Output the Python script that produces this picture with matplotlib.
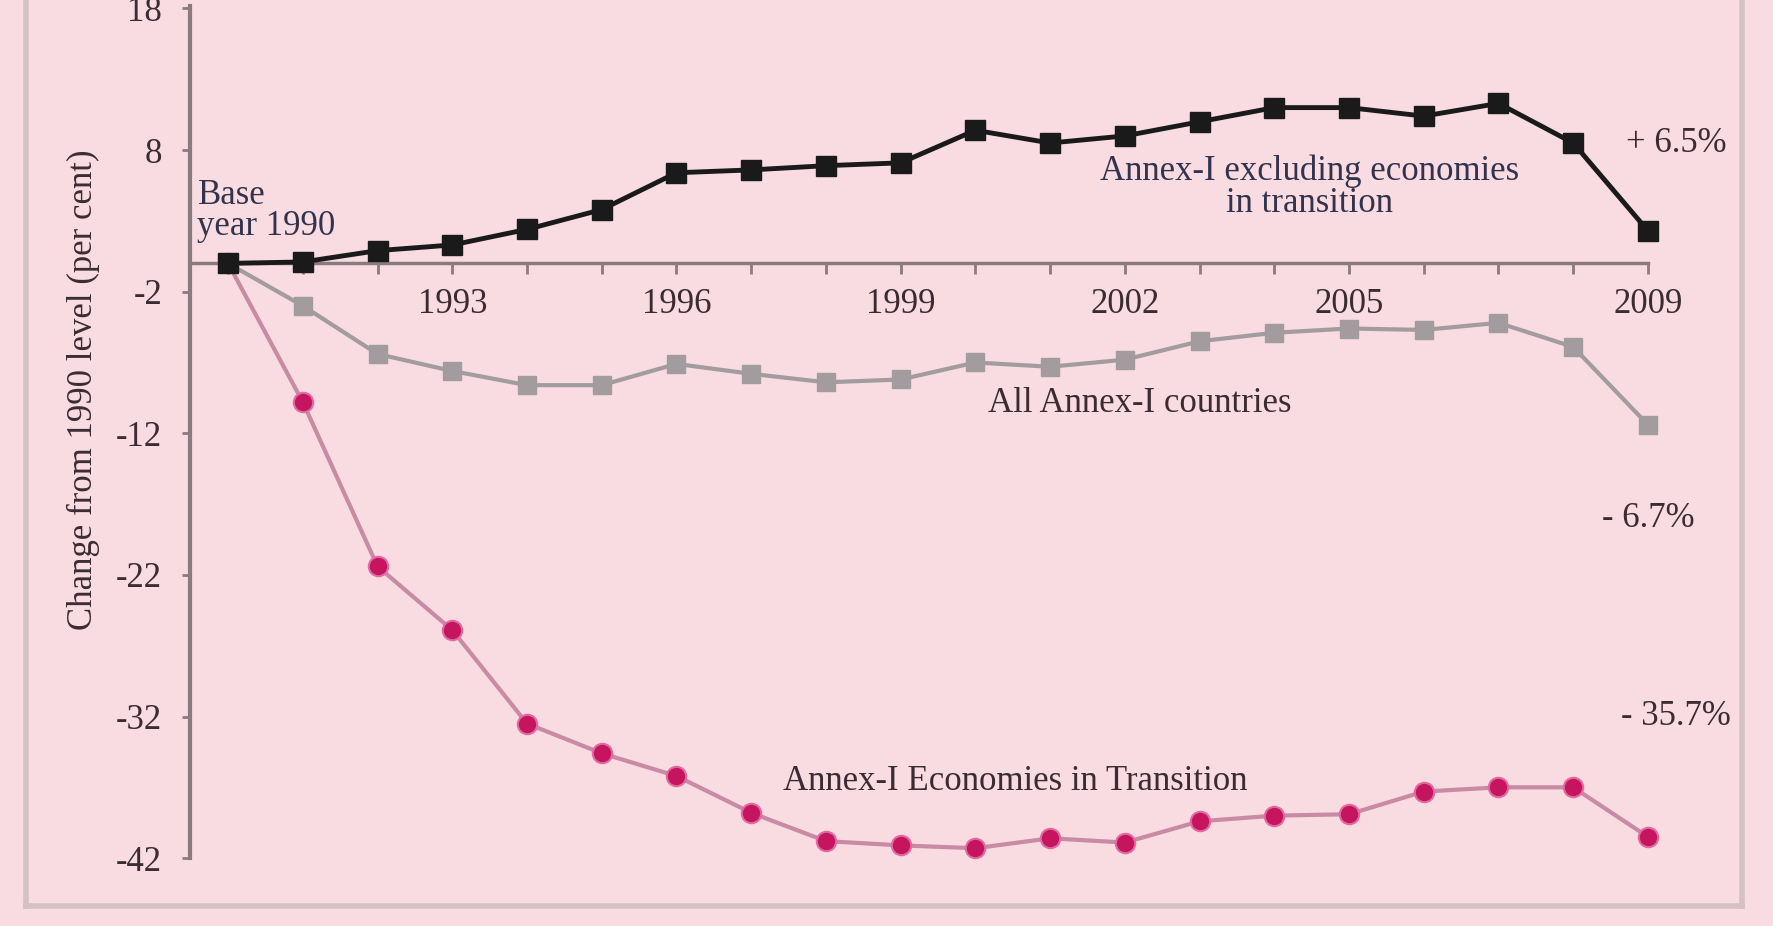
import matplotlib.pyplot as plt
from matplotlib.lines import Line2D

plt.rcParams['font.family'] = ['Liberation Serif', 'DejaVu Serif']
plt.rcParams['axes.unicode_minus'] = False

# data (change from 1990 level, per cent)
years = list(range(1990, 2010))
excl_eit = [0, 0.1, 0.9, 1.3, 2.4, 3.8, 6.4, 6.6, 6.9, 7.1,
            9.4, 8.5, 9.0, 10.0, 11.0, 11.0, 10.4, 11.3, 8.5, 2.3]
all_annex = [0, -3.0, -6.4, -7.6, -8.6, -8.6, -7.1, -7.8, -8.4, -8.2,
             -7.0, -7.3, -6.8, -5.5, -4.9, -4.6, -4.7, -4.2, -5.9, -11.4]
eit = [0, -9.8, -21.4, -25.9, -32.5, -34.6, -36.2, -38.8, -40.8, -41.1,
       -41.3, -40.6, -40.9, -39.4, -39.0, -38.9, -37.3, -37.0, -37.0, -40.5]
year_ticks = [1993, 1996, 1999, 2002, 2005, 2009]
y_ticks = [18, 8, -2, -12, -22, -32, -42]

bg = '#F8DCE2'
spine_c = '#8a7b80'
txt_c = '#3b2b33'
note_c = '#33334d'

fig = plt.figure(figsize=(17.74, 9.26), dpi=100, facecolor=bg)
ax = fig.add_axes([0.1071, 0.0733, 0.8766, 0.9206])
ax.set_facecolor(bg)

ax.plot(years, all_annex, color='#a29c9e', lw=3, marker='s', ms=13,
        mfc='#a29c9e', mec='#a29c9e', clip_on=False, zorder=3)
ax.plot(years, eit, color='#c98aa4', lw=3, marker='o', ms=14,
        mfc='#c4155e', mec='#e36aa0', mew=1.5, clip_on=False, zorder=3)
ax.plot(years, excl_eit, color='#1a1a1a', lw=3.5, marker='s', ms=14,
        mfc='#1a1a1a', mec='#1a1a1a', clip_on=False, zorder=4)

ax.set_xlim(1989.49, 2010.3)
ax.set_ylim(-42, 18.2)

for s in ['top', 'right']:
    ax.spines[s].set_visible(False)
ax.spines['bottom'].set_position(('data', 0))
ax.spines['bottom'].set_bounds(1989.49, 2009)
ax.spines['bottom'].set_color(spine_c)
ax.spines['bottom'].set_linewidth(2.5)
ax.spines['left'].set_color(spine_c)
ax.spines['left'].set_linewidth(3)

ax.set_xticks(year_ticks)
ax.set_xticks(years, minor=True)
ax.tick_params(axis='x', which='both', direction='out', length=8, width=2,
               color=spine_c, labelsize=25, labelcolor=txt_c, pad=10)
ax.set_yticks(y_ticks)
ax.set_yticklabels([str(v) for v in y_ticks])
ax.tick_params(axis='y', direction='out', length=6, width=2, color=spine_c,
               labelsize=25, labelcolor=txt_c, pad=14)

ax.set_ylabel('Change from 1990 level (per cent)', fontsize=25, color=txt_c)
ax.yaxis.set_label_coords(-0.058, 0.549)

ax.text(1989.59, 3.7, 'Base\nyear 1990', fontsize=25, color=note_c,
        ha='left', va='center', linespacing=0.95)
ax.text(2004.47, 5.36, 'Annex-I excluding economies\nin transition', fontsize=25,
        color=note_c, ha='center', va='center', linespacing=0.95)
ax.text(2002.2, -9.9, 'All Annex-I countries', fontsize=25, color=txt_c,
        ha='center', va='center')
ax.text(2000.54, -36.56, 'Annex-I Economies in Transition', fontsize=25,
        color=txt_c, ha='center', va='center')
ax.text(2009.38, 8.5, '+ 6.5%', fontsize=25, color=txt_c, ha='center', va='center')
ax.text(2009.0, -18.0, '- 6.7%', fontsize=25, color=txt_c, ha='center', va='center')
ax.text(2009.38, -32.0, '- 35.7%', fontsize=25, color=txt_c, ha='center', va='center')

# outer frame of the panel
frame_c = '#d4c2c6'
fig.add_artist(Line2D([0.0147, 0.0147], [0.022, 1.0], color=frame_c, lw=4))
fig.add_artist(Line2D([0.0147, 0.982], [0.022, 0.022], color=frame_c, lw=4))
fig.add_artist(Line2D([0.982, 0.982], [0.022, 1.0], color=frame_c, lw=4))

fig.savefig('out.png', dpi=100, facecolor=bg)
